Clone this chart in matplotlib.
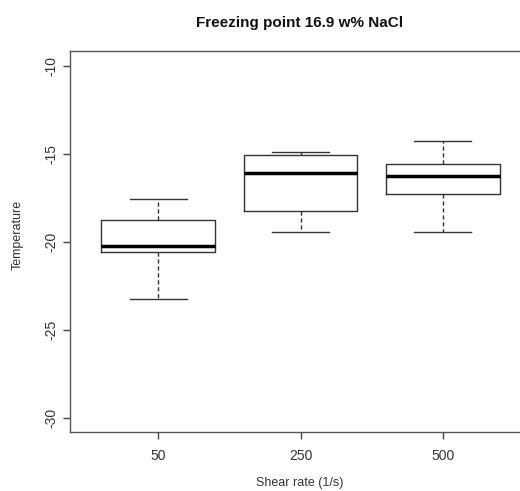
import matplotlib
matplotlib.use("Agg")
import matplotlib.pyplot as plt

plt.rcParams['font.family'] = ['Liberation Sans', 'DejaVu Sans']

# values
shear_rates = ["50", "250", "500"]
whisker_low = [-23.27, -19.45, -19.45]
q1 = [-20.59, -18.27, -17.29]
median = [-20.23, -16.10, -16.27]
q3 = [-18.77, -15.07, -15.57]
whisker_high = [-17.57, -14.90, -14.26]
y_ticks = [-30, -25, -20, -15, -10]

stats = []
for i, name in enumerate(shear_rates):
    stats.append({
        'label': name, 'whislo': whisker_low[i], 'q1': q1[i],
        'med': median[i], 'q3': q3[i], 'whishi': whisker_high[i], 'fliers': [],
    })

W, H = 520, 491
fig = plt.figure(figsize=(W / 100, H / 100), dpi=100)
# right edge of the plot region runs past the image edge, as in the original
left, right, top, bottom = 70, 531, 51, 432
ax = fig.add_axes([left / W, 1 - bottom / H, (right - left) / W, (bottom - top) / H])

ax.bxp(stats, positions=[1, 2, 3], widths=0.8, showfliers=False,
       boxprops=dict(color='#333333', linewidth=1),
       medianprops=dict(color='black', linewidth=2.5),
       whiskerprops=dict(color='#333333', linewidth=1, linestyle=(0, (3, 2))),
       capprops=dict(color='#333333', linewidth=1),
       capwidths=0.4)

ax.set_xlim(0.38, 3.62)
ax.set_ylim(-30.81, -9.16)
ax.set_yticks(y_ticks)
ax.set_yticklabels([str(t) for t in y_ticks], rotation=90, va='center')
ax.tick_params(colors='#444444', labelcolor='#333333', labelsize=10, length=5, width=1)
ax.tick_params(axis='x', pad=7)
for s in ax.spines.values():
    s.set_color('#555555')
    s.set_linewidth(1)

fig.text(300 / W, 1 - 23 / H, "Freezing point 16.9 w% NaCl", ha='center', va='center',
         fontsize=11, fontweight='bold', color='#111111')
fig.text(18 / W, 1 - 235 / H, "Temperature", rotation=90, ha='center', va='center',
         fontsize=9, color='#333333')
fig.text(300 / W, 1 - 483 / H, "Shear rate (1/s)", ha='center', va='center',
         fontsize=9, color='#333333')

fig.savefig("out.png", dpi=100)
